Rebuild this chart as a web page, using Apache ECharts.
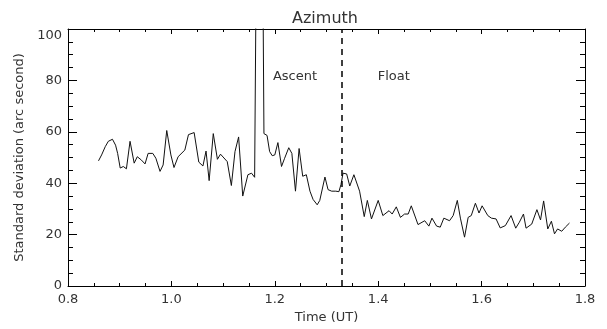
<!DOCTYPE html>
<html>
<head>
<meta charset="utf-8">
<script src="https://cdn.jsdelivr.net/npm/echarts@6/dist/echarts.min.js"></script>
<style>
  html, body { margin: 0; padding: 0; background: #fff; }
  #chart { width: 607px; height: 329px; }
</style>
</head>
<body>
<div id="chart"></div>
<script>
// time (UT) of each sample
var times = [
  0.859, 0.865, 0.872, 0.878, 0.886, 0.892, 0.896, 0.901, 0.907, 0.913,
  0.920, 0.928, 0.934, 0.942, 0.949, 0.955, 0.964, 0.970, 0.978, 0.984,
  0.991, 0.999, 1.005, 1.013, 1.026, 1.033, 1.044, 1.047, 1.053, 1.061,
  1.067, 1.073, 1.081, 1.089, 1.095, 1.108, 1.116, 1.123, 1.130, 1.138,
  1.148, 1.155, 1.161, 1.165, 1.176, 1.179, 1.185, 1.190, 1.195, 1.200,
  1.206, 1.213, 1.219, 1.227, 1.233, 1.240, 1.247, 1.254, 1.261, 1.268,
  1.274, 1.282, 1.287, 1.297, 1.303, 1.310, 1.318, 1.324, 1.328, 1.332,
  1.339, 1.345, 1.353, 1.364, 1.373, 1.379, 1.387, 1.400, 1.409, 1.421,
  1.427, 1.435, 1.443, 1.451, 1.458, 1.464, 1.477, 1.490, 1.498, 1.504,
  1.513, 1.520, 1.527, 1.538, 1.545, 1.553, 1.559, 1.567, 1.574, 1.580,
  1.588, 1.595, 1.601, 1.612, 1.619, 1.628, 1.636, 1.646, 1.657, 1.666,
  1.673, 1.681, 1.686, 1.697, 1.707, 1.714, 1.720, 1.728, 1.735, 1.741,
  1.747, 1.755, 1.762, 1.770
];

// standard deviation (arc second); the spike runs off the top of the plot
var stdev = [
  48.7, 51.0, 54.2, 56.3, 57.1, 54.8, 51.6, 45.9, 46.5, 45.6,
  56.3, 47.8, 50.3, 49.0, 47.5, 51.6, 51.6, 49.7, 44.6, 47.1,
  60.5, 51.0, 46.1, 50.3, 52.9, 58.9, 59.7, 59.3, 48.2, 46.7,
  52.5, 41.0, 59.3, 49.3, 51.3, 48.4, 39.1, 52.3, 58.0, 35.0,
  43.3, 43.9, 42.3, 150, 150, 59.3, 58.6, 52.3, 50.7, 51.0,
  55.8, 46.5, 49.7, 53.8, 51.6, 36.9, 53.5, 42.7, 43.3, 36.9,
  33.7, 31.6, 33.3, 42.4, 37.5, 36.9, 36.9, 36.7, 39.5, 43.9,
  43.6, 38.9, 43.3, 36.9, 27.0, 33.3, 26.1, 33.3, 27.4, 29.3,
  28.0, 30.8, 26.7, 28.0, 28.0, 31.2, 23.9, 25.4, 23.3, 26.4,
  23.3, 22.9, 26.4, 25.4, 27.4, 33.3, 26.4, 19.0, 26.7, 27.4,
  32.2, 28.4, 31.2, 27.4, 26.4, 26.1, 22.6, 23.5, 27.4, 22.5,
  24.8, 28.0, 22.5, 24.1, 29.7, 25.7, 33.1, 22.2, 25.2, 20.3,
  22.2, 21.3, 22.9, 24.5
];

var floatStart = 1.33;
var phaseLabels = ["Ascent", "Float"];
var xTicks = [0.8, 1.8, 0.2];
var yTicks = [0, 100, 20];

var points = times.map(function (t, i) { return [t, stdev[i]]; });

var font = "DejaVu Sans";
var ink = "#333";

function axisX(pos, showLabels) {
  return {
    type: "value",
    position: pos,
    min: xTicks[0],
    max: xTicks[1],
    interval: xTicks[2],
    name: showLabels ? "Time (UT)" : "",
    nameLocation: "middle",
    nameGap: 25,
    nameTextStyle: { color: ink, fontFamily: font, fontSize: 13 },
    axisLine: { show: true, onZero: false, lineStyle: { color: "#000", width: 1 } },
    axisTick: { show: true, inside: true, length: 5, lineStyle: { color: "#000" } },
    minorTick: { show: true, splitNumber: 4, length: 3, lineStyle: { color: "#000" } },
    axisLabel: {
      show: showLabels,
      color: ink,
      fontFamily: font,
      fontSize: 13,
      margin: 7,
      formatter: function (v) { return v.toFixed(1); }
    },
    splitLine: { show: false }
  };
}

function axisY(pos, showLabels) {
  return {
    type: "value",
    position: pos,
    min: yTicks[0],
    max: yTicks[1],
    interval: yTicks[2],
    name: showLabels ? "Standard deviation (arc second)" : "",
    nameLocation: "middle",
    nameGap: 40,
    nameTextStyle: { color: ink, fontFamily: font, fontSize: 13 },
    axisLine: { show: true, onZero: false, lineStyle: { color: "#000", width: 1 } },
    axisTick: { show: true, inside: true, length: 9, lineStyle: { color: "#000" } },
    minorTick: { show: true, splitNumber: 4, length: 5, lineStyle: { color: "#000" } },
    axisLabel: {
      show: showLabels,
      color: ink,
      fontFamily: font,
      fontSize: 13,
      margin: 6,
      verticalAlignMaxLabel: "top"
    },
    splitLine: { show: false }
  };
}

var chart = echarts.init(document.getElementById("chart"), null, { renderer: "canvas" });
chart.setOption({
  animation: false,
  backgroundColor: "#fff",
  title: {
    text: "Azimuth",
    left: 287,
    top: 6,
    textStyle: { color: ink, fontFamily: font, fontSize: 16, fontWeight: "normal" }
  },
  grid: { left: 68, right: 22, top: 29, bottom: 39 },
  xAxis: [axisX("bottom", true), axisX("top", false)],
  yAxis: [axisY("left", true), axisY("right", false)],
  series: [
    {
      type: "line",
      data: points,
      showSymbol: false,
      clip: true,
      lineStyle: { color: "#111", width: 1 },
      markLine: {
        silent: true,
        symbol: "none",
        label: { show: false },
        lineStyle: { color: "#000", width: 1.5, type: [6, 5] },
        data: [{ xAxis: floatStart }]
      },
      markPoint: {
        silent: true,
        symbol: "circle",
        symbolSize: 0,
        label: {
          show: true,
          position: "inside",
          color: ink,
          fontFamily: font,
          fontSize: 13,
          formatter: "{b}"
        },
        data: [
          { name: phaseLabels[0], coord: [1.239, 81.3] },
          { name: phaseLabels[1], coord: [1.430, 81.3] }
        ]
      }
    }
  ]
});
window.addEventListener("resize", function () { chart.resize(); });
</script>
</body>
</html>
